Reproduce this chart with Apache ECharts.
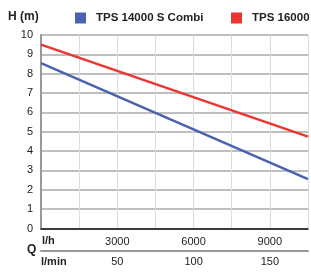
<!DOCTYPE html>
<html>
<head>
<meta charset="utf-8">
<script src="https://cdn.jsdelivr.net/npm/echarts@6/dist/echarts.min.js"></script>
<style>
html,body{margin:0;padding:0;background:#fff}
#chart{width:311px;height:273px}
</style>
</head>
<body>
<div id="chart"></div>
<script>
// flow in l/h, head in m
const flowLh = [0, 10500]
const headCombi = [8.55, 2.55]
const head16000 = [9.5, 4.75]
const seriesNames = ['TPS 14000 S Combi', 'TPS 16000']
const lhLabels = [3000, 6000, 9000]
const lminLabels = [50, 100, 150]

const font = 'Arial, "Liberation Sans", sans-serif'
const chart = echarts.init(document.getElementById('chart'))

// one legend per item so they sit where the picture has them
const legendBase = {
  top: 12, padding: 0, itemWidth: 11, itemHeight: 11, icon: 'rect', width: 200,
  textStyle: { fontSize: 11.5, fontWeight: 'bold', color: '#222', padding: [0, 0, 0, 5] }
}

const option = {
  animation: false,
  textStyle: { fontFamily: font },
  grid: { left: 41, right: 0, top: 35, bottom: 44.5 },
  legend: [
    Object.assign({}, legendBase, { left: 75, data: [seriesNames[0]] }),
    Object.assign({}, legendBase, { left: 231, data: [seriesNames[1]] })
  ],
  xAxis: [
    {
      type: 'value', min: 0, max: 10500, interval: 1500,
      axisLine: { lineStyle: { color: '#111', width: 1.5 } },
      axisTick: { show: false },
      splitLine: { show: true, lineStyle: { color: '#dcdcdc', width: 1 } },
      axisLabel: {
        fontSize: 11, color: '#222', margin: 8,
        formatter: v => lhLabels.includes(v) ? String(v) : ''
      }
    },
    {
      type: 'value', min: 0, max: 175, interval: 25,
      position: 'bottom', offset: 22,
      axisLine: { show: true, lineStyle: { color: '#999', width: 2 } },
      axisTick: { show: false },
      splitLine: { show: false },
      axisLabel: {
        fontSize: 11, color: '#222', margin: 6,
        formatter: v => lminLabels.includes(v) ? String(v) : ''
      }
    }
  ],
  yAxis: {
    type: 'value', min: 0, max: 10, interval: 1,
    axisLine: { show: true, lineStyle: { color: '#999', width: 2 } },
    axisTick: { show: false },
    splitLine: { lineStyle: { color: '#a8a8a8', width: 1.5 } },
    axisLabel: { fontSize: 11, color: '#222', margin: 8 }
  },
  series: [
    {
      name: seriesNames[0], type: 'line', symbol: 'none',
      color: '#4a62b2', lineStyle: { width: 2.5 },
      data: flowLh.map((x, i) => [x, headCombi[i]])
    },
    {
      name: seriesNames[1], type: 'line', symbol: 'none',
      color: '#ec3530', lineStyle: { width: 2.5 },
      data: flowLh.map((x, i) => [x, head16000[i]])
    }
  ],
  graphic: [
    { type: 'text', left: 8, top: 11, style: { text: 'H (m)', font: 'bold 12px ' + font, fill: '#222' } },
    { type: 'text', left: 42, top: 235, style: { text: 'l/h', font: 'bold 11px ' + font, fill: '#222' } },
    { type: 'text', left: 27, top: 244, style: { text: 'Q', font: 'bold 12px ' + font, fill: '#222' } },
    { type: 'text', left: 41, top: 256, style: { text: 'l/min', font: 'bold 11px ' + font, fill: '#222' } }
  ]
}
chart.setOption(option)
</script>
</body>
</html>
